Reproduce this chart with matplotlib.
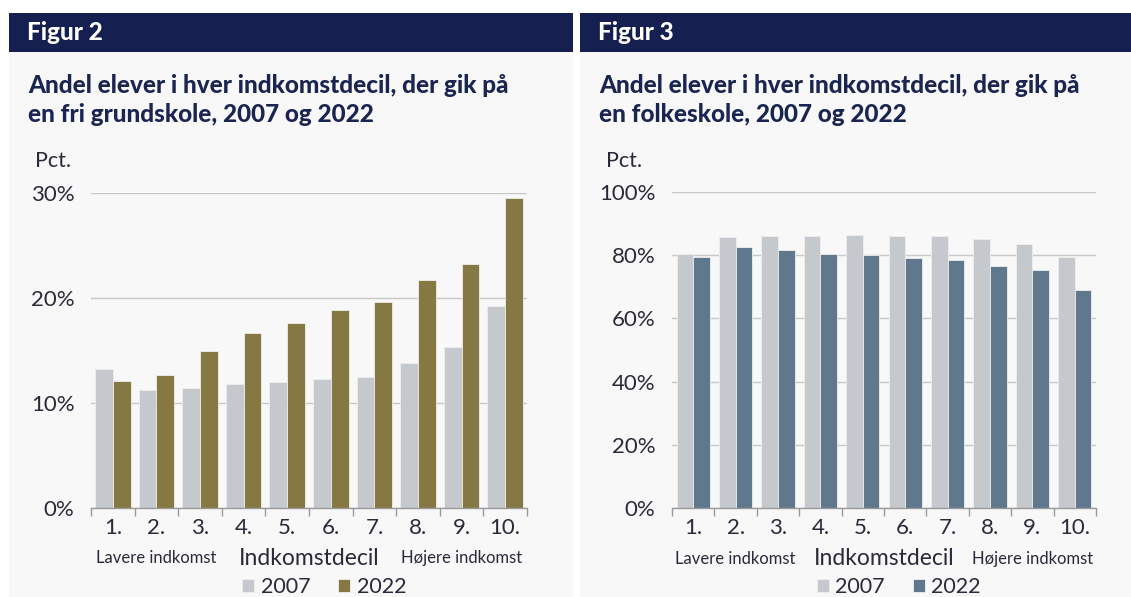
import matplotlib.pyplot as plt
import numpy as np
from matplotlib.patches import Rectangle

plt.rcParams['font.family'] = ['Lato', 'DejaVu Sans']

# Data
deciles = ['1.', '2.', '3.', '4.', '5.', '6.', '7.', '8.', '9.', '10.']
fri_2007 = [13.2, 11.2, 11.4, 11.8, 12.0, 12.3, 12.5, 13.8, 15.3, 19.2]
fri_2022 = [12.1, 12.7, 15.0, 16.7, 17.6, 18.9, 19.6, 21.7, 23.2, 29.5]
folk_2007 = [80.5, 85.9, 86.1, 86.1, 86.3, 86.1, 86.1, 85.1, 83.5, 79.5]
folk_2022 = [79.5, 82.7, 81.5, 80.4, 80.0, 79.0, 78.6, 76.6, 75.2, 68.9]
years = ['2007', '2022']

# Colours
navy = '#162050'
title_col = '#1b2552'
panel_bg = '#f8f8f8'
grey = '#c5c9cd'
olive = '#857843'
slate = '#5f788d'
text_col = '#2a2a3a'

W, H = 1131, 597
fig = plt.figure(figsize=(W / 100, H / 100), dpi=100)
fig.patch.set_facecolor('white')


def px_box(x0, y0, x1, y1):
    # pixel box (top-left origin) -> figure fraction [l, b, w, h]
    return [x0 / W, 1 - y1 / H, (x1 - x0) / W, (y1 - y0) / H]


def panel(x0, x1, label, title, ax_box, v07, v22, col, ymax, step, width):
    # background and header
    l, b, w, h = px_box(x0, 52, x1, H)
    fig.patches.append(Rectangle((l, b), w, h, transform=fig.transFigure,
                                 facecolor=panel_bg, edgecolor='none', zorder=-5))
    l, b, w, h = px_box(x0, 13, x1, 52)
    fig.patches.append(Rectangle((l, b), w, h, transform=fig.transFigure,
                                 facecolor=navy, edgecolor='none', zorder=-5))
    fig.text((x0 + 18) / W, 1 - 33 / H, label, color='white', fontsize=17.5,
             fontweight='black', va='center', ha='left')
    fig.text((x0 + 19) / W, 1 - 100 / H, title, color=title_col, fontsize=17.5,
             fontweight='black', va='center', ha='left', linespacing=1.3)
    fig.text((x0 + 26) / W, 1 - 161 / H, 'Pct.', color=text_col, fontsize=15.5,
             va='center', ha='left')

    ax = fig.add_axes(px_box(*ax_box))
    ax.set_facecolor('none')
    x = np.arange(len(deciles))
    b1 = ax.bar(x - width / 2, v07, width, color=grey, edgecolor='#eeeeee',
                linewidth=0.6, label=years[0], zorder=2)
    b2 = ax.bar(x + width / 2, v22, width, color=col, edgecolor='#eeeeee',
                linewidth=0.6, label=years[1], zorder=2)

    ax.set_xlim(-0.5, len(deciles) - 0.5)
    ax.set_ylim(0, ymax)
    yt = np.arange(0, ymax + step / 2, step)
    ax.set_yticks(yt)
    ax.set_yticklabels([f'{int(v)}%' for v in yt], fontsize=16, color=text_col)
    ax.yaxis.grid(True, color='#c8c8c8', linewidth=1.0, zorder=0)
    ax.set_axisbelow(True)
    ax.tick_params(axis='y', length=0, pad=12)

    ax.set_xticks(x)
    ax.set_xticklabels(deciles, fontsize=16, color=text_col)
    ax.set_xticks(np.arange(-0.5, len(deciles)), minor=True)
    ax.tick_params(axis='x', which='major', length=0, pad=7)
    ax.tick_params(axis='x', which='minor', length=6, color='#9a9a9a', width=1)

    for s in ['top', 'right', 'left']:
        ax.spines[s].set_visible(False)
    ax.spines['bottom'].set_color('#9a9a9a')
    ax.spines['bottom'].set_linewidth(1.0)

    # sub labels under the deciles
    ax.text(1.0, -0.16, 'Lavere indkomst', transform=ax.get_xaxis_transform(),
            ha='center', va='center', fontsize=12, color=text_col)
    ax.text(8.0, -0.16, 'Højere indkomst', transform=ax.get_xaxis_transform(),
            ha='center', va='center', fontsize=12, color=text_col)
    ax.text(4.5, -0.16, 'Indkomstdecil', transform=ax.get_xaxis_transform(),
            ha='center', va='center', fontsize=16.5, color=text_col)

    ax.legend(handles=[b1, b2], loc='center', bbox_to_anchor=(0.535, -0.25),
              ncol=2, frameon=False, fontsize=15.5, handlelength=0.55,
              handleheight=0.55, handletextpad=0.3, columnspacing=1.3,
              labelcolor=text_col)
    return ax


panel(9, 573, 'Figur 2',
      'Andel elever i hver indkomstdecil, der gik på\nen fri grundskole, 2007 og 2022',
      (91, 193, 527, 508), fri_2007, fri_2022, olive, 30, 10, 0.41)
panel(580, 1131, 'Figur 3',
      'Andel elever i hver indkomstdecil, der gik på\nen folkeskole, 2007 og 2022',
      (672, 192, 1096, 508), folk_2007, folk_2022, slate, 100, 20, 0.39)

fig.savefig('out.png', dpi=100)
